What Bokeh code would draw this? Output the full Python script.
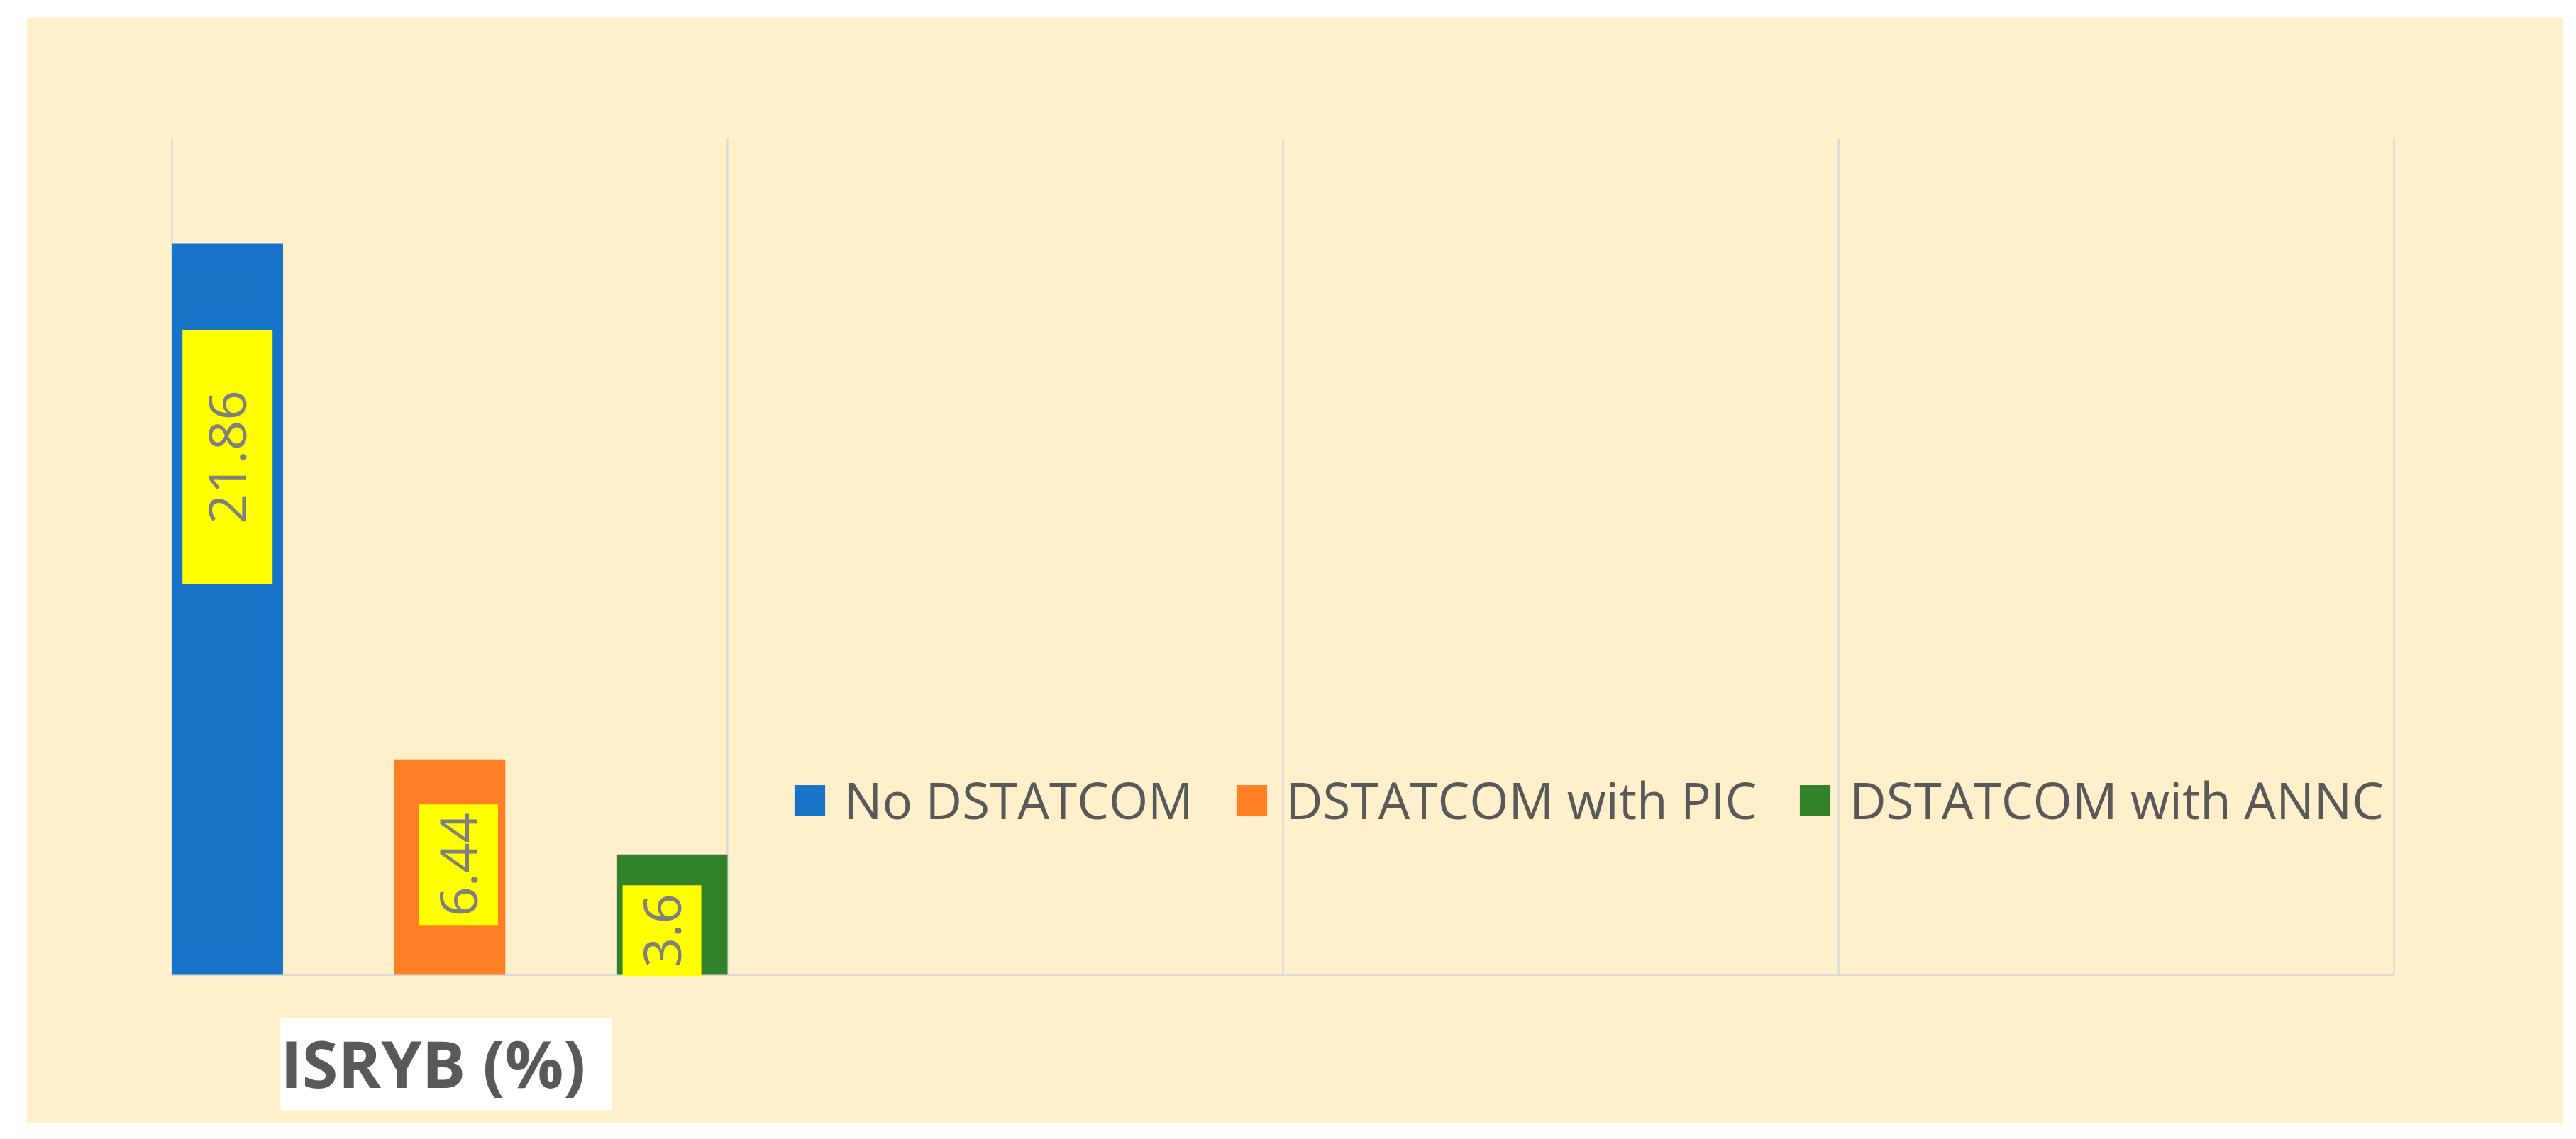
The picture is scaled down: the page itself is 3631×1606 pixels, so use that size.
import math
from bokeh.plotting import figure
from bokeh.models import ColumnDataSource, Range1d, Legend, LegendItem, Label
from bokeh.core.properties import value
from bokeh.transform import dodge
from bokeh.embed import file_html
from bokeh.resources import INLINE

# ---- data ----
categories = ["ISRYB (%)"]
series_names = ["No DSTATCOM", "DSTATCOM with PIC", "DSTATCOM with ANNC"]
no_dstatcom = [21.86]
dstatcom_pic = [6.44]
dstatcom_annc = [3.6]
n_category_slots = 4          # the chart axis reserves 4 category slots
y_max = 25

# ---- styles ----
colors = ["#1874C8", "#FF7F24", "#31822A"]
bar_offsets = [-0.4, 0.0, 0.4]
bar_width = 0.2
label_pos_frac = [0.708, 0.511, 0.367]   # where each data label box sits along its bar
label_dx = [0.0, 0.016, -0.018]
label_box_w = [127, 111, 111]
label_box_h = [357, 170, 128]
BG = "#FFF0CB"
GRID = "#D9D9D9"

plot_h_px = 1179            # height of the value area (0..y_max)
below_px = 210              # space under the axis line for the category label
px_per_unit = plot_h_px / y_max
y_start = -below_px / px_per_unit
x_pad = 0.005

p = figure(width=3575, height=1560, output_backend="svg", toolbar_location=None,
           x_range=Range1d(-x_pad, n_category_slots + x_pad), y_range=Range1d(y_start, y_max),
           min_border_left=201, min_border_right=234, min_border_top=171, min_border_bottom=0,
           background_fill_color=BG, border_fill_color=BG, margin=(24, 0, 0, 37))
p.outline_line_color = None
p.xaxis.visible = False
p.yaxis.visible = False
p.xgrid.visible = False
p.ygrid.visible = False

# vertical category gridlines (from the axis line up to the top of the value range)
grid_x = list(range(n_category_slots + 1))
p.segment(x0=grid_x, y0=[0] * len(grid_x), x1=grid_x, y1=[y_max] * len(grid_x),
          line_color=GRID, line_width=2.5)
# category axis line
p.segment(x0=[0], y0=[0], x1=[n_category_slots], y1=[0], line_color=GRID, line_width=3)

cat_x = [i + 0.5 for i in range(len(categories))]
all_values = [no_dstatcom, dstatcom_pic, dstatcom_annc]
legend_items = []
for k, (name, vals) in enumerate(zip(series_names, all_values)):
    src = ColumnDataSource(dict(x=cat_x, top=vals,
                                ly=[v * label_pos_frac[k] for v in vals],
                                lx=[x + bar_offsets[k] + label_dx[k] for x in cat_x],
                                txt=[f"{v:g}" for v in vals]))
    r = p.vbar(x=dodge("x", bar_offsets[k], range=p.x_range), top="top", bottom=0,
               width=bar_width, source=src, fill_color=colors[k], line_color=None)
    legend_items.append(LegendItem(label=name, renderers=[r]))
    p.rect(x="lx", y="ly", width=label_box_w[k], height=label_box_h[k],
           width_units="screen", height_units="screen", source=src,
           fill_color="#FFFF00", line_color=None)
    p.text(x="lx", y="ly", text="txt", angle=math.pi / 2, source=src,
           text_font=value("Open Sans"), text_font_size="74px", text_color="#7F7F7F",
           text_align="center", text_baseline="middle")

legend = Legend(items=legend_items, orientation="horizontal", location=(876, 408),
                glyph_width=54, glyph_height=54, label_standoff=22, spacing=55,
                padding=0, margin=0, border_line_color=None, background_fill_alpha=0,
                label_text_font="Open Sans", label_text_font_size="71px",
                label_text_color="#595959")
p.add_layout(legend, "center")

for i, c in enumerate(categories):
    p.add_layout(Label(x=cat_x[i], y=-126 / px_per_unit, x_offset=-5, text=c,
                       text_align="center", text_baseline="middle",
                       text_font="Open Sans", text_font_style="bold", text_font_size="92px",
                       text_color="#595959", background_fill_color="white",
                       padding=(0, 37, 0, 5)))

open("out.html", "w").write(file_html(p, INLINE))
